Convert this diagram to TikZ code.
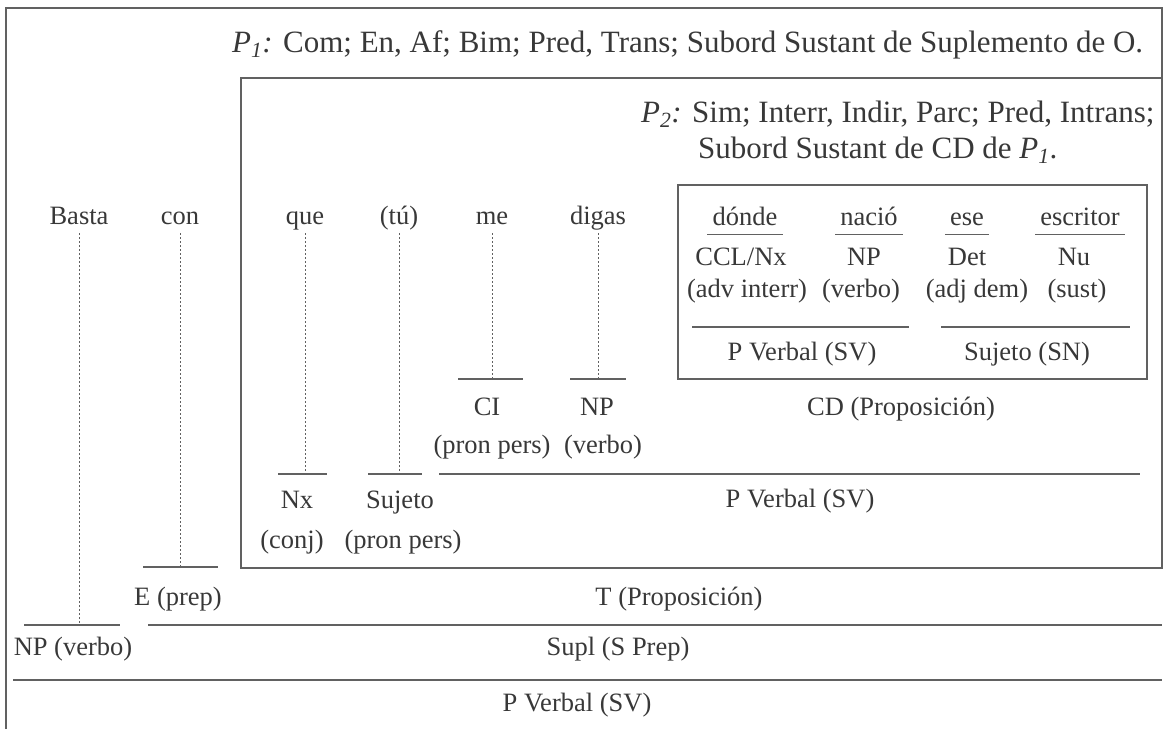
\documentclass[tikz,border=0pt]{standalone}
\usepackage{fontspec}
\setmainfont{Liberation Serif}
\definecolor{ink}{gray}{0.22}
\definecolor{rule}{gray}{0.38}
\newcommand{\Pn}[1]{\textit{P\textsubscript{#1}:}}
\begin{document}
\begin{tikzpicture}[x=1pt,y=-1pt,
			every node/.style = {font=\fontsize{26.5}{32}\selectfont, text=ink, inner sep=0pt},
			head/.style = {anchor=base west, font=\fontsize{31}{36}\selectfont},
			word/.style = {anchor=base, text height=18pt, text depth=9pt},
			uword/.style = {word, inner xsep=5pt},
			lbl/.style = {anchor=base},
			bar/.style = {draw=rule, line width=1.1pt},
			guide/.style = {draw=rule, line width=0.7pt, dash pattern=on 2pt off 2pt}]
			
			\useasboundingbox (0,0) rectangle (1167,729);
			
			% frames
			\draw[bar] (6,729) -- (6,8) -- (1162,8) -- (1162,78);
			\draw[bar] (241,78) rectangle (1162,568);
			\draw[bar] (678,185) rectangle (1147,379);
			
			\node[head] (pone) at (232,52) {\Pn{1} Com; En, Af; Bim; Pred, Trans; Subord Sustant de Suplemento de O.};
			\node[head] (ptwo) at (641,122) {\Pn{2} Sim; Interr, Indir, Parc; Pred, Intrans;};
			\node[head] (ptwob) at (698,158) {Subord Sustant de CD de \textit{P\textsubscript{1}}.};
			
			% sentence
			\node[word] (basta) at (79,224) {Basta};
			\node[word] (con) at (180,224) {con};
			\node[word] (que) at (305,224) {que};
			\node[word] (tu) at (399,224) {(tú)};
			\node[word] (me) at (492,224) {me};
			\node[word] (digas) at (598,224) {digas};
			
			% inner clause
			\node[uword] (donde) at (745,225) {dónde};
			\node[uword] (nacio) at (869,225) {nació};
			\node[uword] (ese) at (967,225) {ese};
			\node[uword] (escritor) at (1080,225) {escritor};
			\foreach \w in {donde,nacio,ese,escritor}
				\draw[bar] (\w.south west) -- (\w.south east);
			
			\node[lbl] (ccl) at (741,265) {CCL/Nx};
			\node[lbl] (npb) at (864,265) {NP};
			\node[lbl] (det) at (967,265) {Det};
			\node[lbl] (nu) at (1074,265) {Nu};
			\node[lbl] (advi) at (747,297) {(adv interr)};
			\node[lbl] (verbb) at (861,297) {(verbo)};
			\node[lbl] (adjd) at (977,297) {(adj dem)};
			\node[lbl] (sust) at (1077,297) {(sust)};
			\draw[bar] (692,327) coordinate (pvbL) -- (909,327) coordinate (pvbR);
			\draw[bar] (941,327) coordinate (sjbL) -- (1130,327) coordinate (sjbR);
			\node[lbl] (pvb) at (802,360) {P Verbal (SV)};
			\node[lbl] (sjb) at (1027,360) {Sujeto (SN)};
			
			% bars
			\draw[bar] (458,379) coordinate (ciL) -- (523,379);
			\draw[bar] (570,379) coordinate (npL) -- (626,379);
			\draw[bar] (278,474) coordinate (nxL) -- (327,474);
			\draw[bar] (368,474) coordinate (sujL) -- (422,474);
			\draw[bar] (439,474) -- (1140,474);
			\draw[bar] (143,567) coordinate (eL) -- (218,567);
			\draw[bar] (24,625) coordinate (npvL) -- (120,625);
			\draw[bar] (148,625) -- (1162,625);
			\draw[bar] (13,680) -- (1162,680);
			
			\draw[guide] (basta.south) -- (basta.south |- npvL);
			\draw[guide] (con.south) -- (con.south |- eL);
			\draw[guide] (que.south) -- (que.south |- nxL);
			\draw[guide] (tu.south) -- (tu.south |- sujL);
			\draw[guide] (me.south) -- (me.south |- ciL);
			\draw[guide] (digas.south) -- (digas.south |- npL);
			
			% functions
			\node[lbl] (ci) at (487,415) {CI};
			\node[lbl] (cipp) at (492,453) {(pron pers)};
			\node[lbl] (np) at (597,415) {NP};
			\node[lbl] (npv) at (603,453) {(verbo)};
			\node[lbl] (cd) at (901,415) {CD (Proposición)};
			\node[lbl] (pv) at (800,507) {P Verbal (SV)};
			\node[lbl] (nx) at (297,508) {Nx};
			\node[lbl] (conj) at (292,548) {(conj)};
			\node[lbl] (suj) at (400,508) {Sujeto};
			\node[lbl] (sujpp) at (403,548) {(pron pers)};
			\node[lbl] (e) at (178,605) {E (prep)};
			\node[lbl] (t) at (679,605) {T (Proposición)};
			\node[lbl] (npverbo) at (73,655) {NP (verbo)};
			\node[lbl] (supl) at (618,655) {Supl (S Prep)};
			\node[lbl] (pvall) at (577,711) {P Verbal (SV)};
			\end{tikzpicture}
\end{document}
